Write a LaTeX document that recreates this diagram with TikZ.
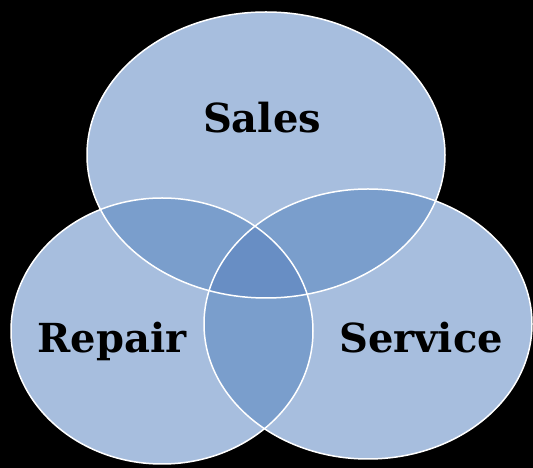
\documentclass[tikz,border=0pt]{standalone}
\usepackage{fontspec}
\setmainfont{DejaVu Serif}
\usetikzlibrary{positioning}
\definecolor{venn}{RGB}{167,190,222}
\definecolor{venntwo}{RGB}{122,158,204}
\definecolor{vennthree}{RGB}{104,142,196}
\tikzset {
rand/.style={draw=white,line width=1.5pt},
bereich/.style={font=\bfseries\fontsize{40}{44}\selectfont,text=black,anchor=base}
}

\begin{document}
\begin{tikzpicture}
[x=1pt,y=1pt]
\fill[black] (0,0) rectangle (533,468);
\def\sales{(266,313) ellipse [x radius=179,y radius=143]}
\def\repair{(162,137) ellipse [x radius=151,y radius=133]}
\def\service{(368,144) ellipse [x radius=164,y radius=135]}
\fill[venn] \sales;
\fill[venn] \repair;
\fill[venn] \service;
% overlaps
\begin{scope}
\clip \sales;
\fill[venntwo] \repair;
\fill[venntwo] \service;
\end{scope}
\begin{scope}
\clip \repair;
\fill[venntwo] \service;
\end{scope}
\begin{scope}
\clip \sales;
\clip \repair;
\fill[vennthree] \service;
\end{scope}
\draw[rand] \sales;
\draw[rand] \repair;
\draw[rand] \service;
\node[bereich] (sales) at (262,335) {Sales};
\node[bereich] (repair) at (112,115) {Repair};
\node[bereich] (service) at (421,115) {Service};
\end{tikzpicture}
\end{document}
